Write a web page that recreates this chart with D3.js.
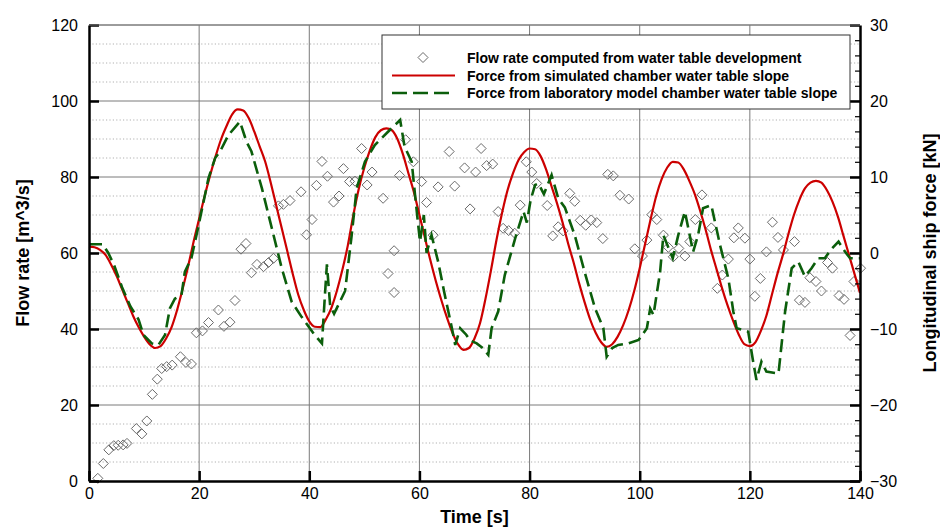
<!DOCTYPE html>
<html><head><meta charset="utf-8">
<script src="https://cdn.jsdelivr.net/npm/d3@7"></script>
<style>
html,body{margin:0;padding:0;background:#fff;}
svg{display:block;font-family:"Liberation Sans",Arial,sans-serif;}
</style></head>
<body><svg id="c" width="940" height="527"></svg>
<script>
// ---- data ----
const timeTicks = [0,20,40,60,80,100,120,140];
const flowTicks = [0,20,40,60,80,100,120];
const forceTicks = [-30,-20,-10,0,10,20,30];
const legendLabels = [
  "Flow rate computed from water table development",
  "Force from simulated chamber water table slope",
  "Force from laboratory model chamber water table slope"
];
// flow rate [m^3/s] points: [time, flow]
const flowPoints = [
 [1.6,0.7],[2.6,4.6],[3.6,8.2],[4.5,9.3],[5.3,9.4],[6.2,9.5],[6.9,9.9],[8.6,13.8],[9.6,12.4],[10.5,15.8],
 [11.5,22.8],[12.4,26.8],[13.2,29.6],[14.1,30.1],[15.1,30.5],[16.6,32.7],[17.6,31.2],[18.6,30.8],[19.5,39],[20.6,39.5],
 [21.7,41.7],[23.5,45],[24.5,40.7],[25.6,41.8],[26.5,47.5],[27.6,61],[28.5,62.5],[29.5,54.8],[30.5,57],[31.7,56.4],
 [32.6,57.5],[33.5,58.6],[34.4,72.4],[35.3,72.8],[36.5,73.8],[38.5,76.1],[39.5,64.8],[40.5,68.8],[41.3,77.8],[42.3,84.1],
 [43.3,80.2],[44.4,73.4],[45.4,75],[46.2,82.2],[47.3,78.8],[48.3,78.9],[49.5,87.5],[50.5,77.9],[51.4,81.3],[53.4,74.4],
 [54.3,54.6],[55.4,60.6],[55.4,49.6],[56.4,80.4],[57.5,89.8],[58.9,84],[60.4,78.8],[61.3,73.3],[62.5,64.7],[63.4,77.4],
 [65.4,86.7],[66.4,77.6],[68.2,82.4],[69.2,71.6],[70.2,81.3],[71.2,87.5],[72.2,83],[73.3,83.4],[74.3,70.9],[75.2,66.5],
 [76.2,65.9],[77.3,65.2],[78.3,72.6],[79.4,84],[80.4,81.3],[81.3,78.3],[83.2,72.5],[84.2,64.5],[85.2,66.9],[86.1,65.8],
 [87.3,75.7],[88.2,73.6],[89.2,68.6],[90.2,67.3],[91.2,68.7],[92.2,68],[93.3,63.8],[94.2,80.7],[95.2,80.3],[96.4,75.2],
 [98,74.2],[99.1,61.1],[100.5,59.2],[101.3,63.4],[102.2,70.1],[103.1,68.8],[104.3,64.7],[105.2,61.5],[106.1,59],[107.1,61.2],
 [108.2,59.2],[109.1,63],[110.1,68.8],[111.3,75.3],[113,66.6],[114.1,50.7],[115,54.2],[116.1,58.4],[117.1,64],[117.9,66.6],
 [119.1,63.9],[120,58.4],[120.9,48.6],[121.9,53.3],[123,60.3],[124.1,68.1],[125.1,64.1],[126.1,60.8],[128.1,63],[129,47.6],
 [130,47],[130.9,53.5],[132,52.5],[133,50],[134.1,57.5],[135,56],[136.2,48.8],[137.1,47.8],[138.2,38.3],[138.9,52.5],[140.1,56]
];
// simulated chamber force [kN]: [time, force]
const simForce = [
 [0,0.85],[1,0.75],[2,0.4],[3,-0.25],[4,-1.5],[5,-3],[6,-4.75],[7,-6.5],[8,-8.25],[9,-9.75],
 [10,-11],[11,-12],[12,-12.5],[13,-12.25],[14,-11.25],[15,-9.75],[16,-7.5],[17,-4.75],[18,-1.75],[19,1.5],
 [20,4.5],[21,7.5],[22,10.25],[23,12.75],[24,15],[25,16.75],[26,18.25],[27,18.9],[28,18.75],[29,17.75],
 [30,16],[31,14],[32,12],[33,9.25],[34,6.25],[35,3.25],[36,0.25],[37,-2.75],[38,-5.5],[39,-7.5],
 [40,-9],[41,-9.7],[42,-9.75],[43,-8.75],[44,-7.25],[45,-5],[46,-2.25],[47,1],[48,5],[49,8.5],
 [50,11.25],[51,13.5],[52,15.25],[53,16.15],[54,16.4],[55,16.15],[56,15],[57,13],[58,10.5],[59,8],
 [60,5],[61,2],[62,-1],[63,-3.75],[64,-6.25],[65,-8.5],[66,-10.5],[67,-12],[68,-12.75],[69,-12.5],
 [70,-11.25],[71,-9.25],[72,-6],[73,-2.25],[74,1.75],[75,5.25],[76,8.25],[77,10.5],[78,12.25],[79,13.25],
 [80,13.75],[81,13.65],[82,12.75],[83,11],[84,8.75],[85,6.5],[86,4],[87,1.25],[88,-1.25],[89,-4],
 [90,-6.5],[91,-8.75],[92,-10.5],[93,-11.75],[94,-12.35],[95,-12],[96,-11],[97,-9.5],[98,-7.5],[99,-5],
 [100,-2],[101,1.25],[102,4.5],[103,7.5],[104,9.75],[105,11.25],[106,12],[107,11.9],[108,11],[109,9.5],
 [110,7.75],[111,5.5],[112,3],[113,0.25],[114,-2.25],[115,-4.75],[116,-7],[117,-9],[118,-10.75],[119,-12],
 [120,-12.25],[121,-11.75],[122,-10.25],[123,-8.25],[124,-5.5],[125,-2.75],[126,-0.25],[127,2.5],[128,5],[129,7],
 [130,8.5],[131,9.25],[132,9.5],[133,9.25],[134,8.25],[135,6.75],[136,4.75],[137,2.25],[138,-0.25],[139,-2.75],[140,-5.25]
];
// laboratory model chamber force [kN]: [time, force]
const labForce = [
 [0,1.15],[2.5,1.15],[3.5,0],[4.5,-1.5],[6,-4.5],[7.5,-7],[9,-8.75],[9.9,-10.8],[11.4,-11.9],[12.6,-12.1],
 [13.8,-10.8],[14.7,-7.25],[15.6,-6],[16.8,-5.5],[17.4,-2.5],[18.6,-0.65],[19.8,3.3],[21.7,9.85],[22.9,12.5],[23.8,13.35],
 [25.3,15.5],[27.4,17.3],[28.6,14.65],[29.5,13.35],[31.4,8.5],[33.2,3.25],[35,-2],[36.8,-6.4],[38.6,-8.4],[40.1,-9.9],
 [41,-10.8],[42.3,-11.9],[42.8,-6],[43.2,-1.5],[43.8,-7],[44.5,-8],[45.5,-6.5],[46.5,-5],[47.7,2.35],[48.6,8.5],
 [50.1,12],[51.9,14.2],[54.3,15.95],[56.5,17.5],[57.3,14],[58.6,12],[59.2,7.65],[60.1,1.5],[60.8,5],[61.3,0],
 [62.2,2.35],[63.4,-1.15],[64.6,-5.5],[65.9,-9.9],[66.5,-12.1],[67.4,-9.9],[68.5,-10.75],[69.2,-11.5],[70.4,-11.9],[71.5,-12.5],
 [72.5,-13.4],[73.1,-9.9],[74.3,-7.7],[75.5,-2.9],[77.4,1.95],[78.9,5.45],[79.5,4],[80.2,7],[81,8.95],[81.6,9.15],
 [82.6,7.75],[84,10.25],[85.2,7.2],[86.4,6],[88.2,2.35],[90,-2.5],[91.9,-7.3],[93.4,-9.9],[94,-13.65],[95,-12.5],
 [96.1,-12.1],[97.9,-11.9],[99.8,-11.45],[101.3,-9.9],[101.9,-7.3],[102.5,-8.15],[103.7,-2.5],[104.3,2.35],[106,-0.7],[107,2.35],
 [108.2,5.45],[109.7,0.15],[110.6,2.35],[111.5,5.9],[113,6.3],[114.6,1],[116.1,-3.35],[117,-7.7],[117.6,-9.9],[119.7,-10.35],
 [120.6,-14.3],[121.2,-16.7],[122.1,-14.3],[123,-15.6],[125.2,-15.85],[126.4,-7.7],[127.6,-2],[128.8,-1.15],[130,-3.1],[131.2,-2],
 [132.4,-0.7],[133.6,-0.7],[134.9,0.6],[136.1,1.5],[137.3,0.15],[138.2,-0.7],[140,-0.7]
];

// ---- layout ----
const svg = d3.select("#c");
const L = 89, R = 860, T = 25, B = 481;
const x = d3.scaleLinear([0,140],[L,R]);
const yL = d3.scaleLinear([0,120],[B,T]);
const yR = d3.scaleLinear([-30,30],[B,T]);
const FONT = '"Liberation Sans",Arial,sans-serif';

// minor dotted grid every 5 flow units
const minorFlow = d3.range(5,120,5).filter(v => v % 20 !== 0);
svg.append("g").selectAll("line").data(minorFlow).join("line")
  .attr("x1",L).attr("x2",R).attr("y1",d=>yL(d)).attr("y2",d=>yL(d))
  .attr("stroke","#b0b0b0").attr("stroke-width",1).attr("stroke-dasharray","1.2,2.2");
// major grid
svg.append("g").selectAll("line").data(flowTicks.filter(v=>v>0)).join("line")
  .attr("x1",L).attr("x2",R).attr("y1",d=>yL(d)).attr("y2",d=>yL(d))
  .attr("stroke","#7a7a7a").attr("stroke-width",1);
svg.append("g").selectAll("line").data(timeTicks.filter(v=>v>0&&v<140)).join("line")
  .attr("x1",d=>x(d)).attr("x2",d=>x(d)).attr("y1",T).attr("y2",B)
  .attr("stroke","#7a7a7a").attr("stroke-width",1);

// scatter diamonds
const dia = "M0,-5L5,0L0,5L-5,0Z";
svg.append("g").selectAll("path").data(flowPoints).join("path")
  .attr("d",dia).attr("transform",d=>`translate(${x(d[0])},${yL(d[1])})`)
  .attr("fill","none").attr("stroke","#6a6a6a").attr("stroke-width",1);

// lines
const lineR = d3.line().x(d=>x(d[0])).y(d=>yR(d[1])).curve(d3.curveMonotoneX);
svg.append("path").datum(simForce).attr("d",lineR)
  .attr("fill","none").attr("stroke","#cc0000").attr("stroke-width",2.2);
const lineG = d3.line().x(d=>x(d[0])).y(d=>yR(d[1]));
svg.append("path").datum(labForce).attr("d",lineG)
  .attr("fill","none").attr("stroke","#0b5e0b").attr("stroke-width",2.6)
  .attr("stroke-dasharray","13,6");

// axes
function styleAxis(g){
  g.attr("font-family",FONT).attr("font-size",16);
  g.selectAll(".tick text").attr("fill","#000");
  g.selectAll(".tick line").attr("stroke","#000").attr("stroke-width",2.5);
  g.select(".domain").attr("stroke","#000").attr("stroke-width",2.5);
}
const gl = svg.append("g").attr("transform",`translate(${L},0)`)
  .call(d3.axisLeft(yL).tickValues(flowTicks).tickSize(-10).tickSizeOuter(0).tickPadding(11));
styleAxis(gl);
const gb = svg.append("g").attr("transform",`translate(0,${B})`)
  .call(d3.axisBottom(x).tickValues(timeTicks).tickSize(-10).tickSizeOuter(0).tickPadding(7));
styleAxis(gb);
const grm = svg.append("g").attr("transform",`translate(${R},0)`)
  .call(d3.axisRight(yR).tickValues(d3.range(-28,30,2).filter(v=>v%10!==0)).tickSize(-5).tickSizeOuter(0).tickFormat(""));
grm.selectAll(".tick line").attr("stroke","#000").attr("stroke-width",1.2);
grm.select(".domain").remove();
const gr = svg.append("g").attr("transform",`translate(${R},0)`)
  .call(d3.axisRight(yR).tickValues(forceTicks).tickSize(-10).tickSizeOuter(0).tickPadding(10));
styleAxis(gr);
// top border
svg.append("line").attr("x1",L).attr("x2",R).attr("y1",T).attr("y2",T)
  .attr("stroke","#7a7a7a").attr("stroke-width",1);

// axis titles
svg.append("text").attr("transform",`translate(${(L+R)/2},523)`).attr("text-anchor","middle")
  .attr("font-family",FONT).attr("font-size",18).attr("font-weight","bold").text("Time [s]");
svg.append("text").attr("transform",`translate(29,${(T+B)/2}) rotate(-90)`).attr("text-anchor","middle")
  .attr("font-family",FONT).attr("font-size",18).attr("font-weight","bold").text("Flow rate [m^3/s]");
svg.append("text").attr("transform",`translate(936,${(T+B)/2}) rotate(-90)`).attr("text-anchor","middle")
  .attr("font-family",FONT).attr("font-size",18).attr("font-weight","bold").text("Longitudinal ship force [kN]");

// legend
const lg = svg.append("g");
lg.append("rect").attr("x",382).attr("y",35).attr("width",468).attr("height",74)
  .attr("fill","#fff").attr("stroke","#333").attr("stroke-width",1);
const rows = [57.5,75.5,93];
lg.append("path").attr("d",dia).attr("transform",`translate(423,${rows[0]})`)
  .attr("fill","none").attr("stroke","#6a6a6a").attr("stroke-width",1);
lg.append("line").attr("x1",392).attr("x2",455).attr("y1",rows[1]).attr("y2",rows[1])
  .attr("stroke","#cc0000").attr("stroke-width",2.2);
lg.append("line").attr("x1",392).attr("x2",455).attr("y1",rows[2]).attr("y2",rows[2])
  .attr("stroke","#0b5e0b").attr("stroke-width",2.6).attr("stroke-dasharray","15,6");
lg.selectAll("text.l").data(legendLabels).join("text").attr("class","l")
  .attr("x",467).attr("y",(d,i)=>rows[i]).attr("dy","0.36em")
  .attr("font-family",FONT).attr("font-size",14).attr("font-weight","bold").text(d=>d);
</script></body></html>
